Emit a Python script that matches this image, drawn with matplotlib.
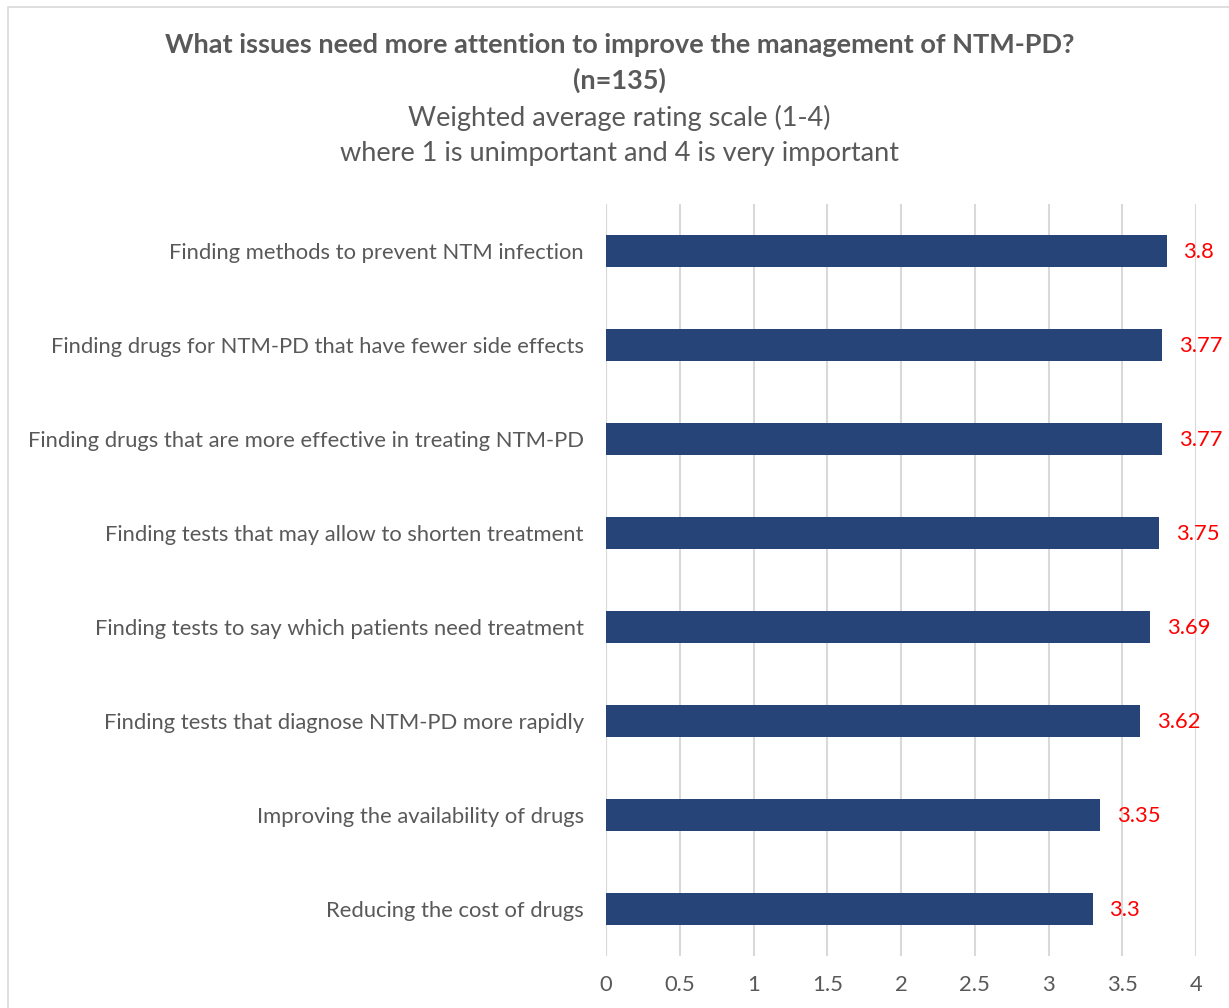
import matplotlib.pyplot as plt
from matplotlib.patches import Rectangle

plt.rcParams['font.family'] = ['Lato', 'DejaVu Sans']

categories = [
    "Finding methods to prevent NTM infection",
    "Finding drugs for NTM-PD that have fewer side effects",
    "Finding drugs that are more effective in treating NTM-PD",
    "Finding tests that may allow to shorten treatment",
    "Finding tests to say which patients need treatment",
    "Finding tests that diagnose NTM-PD more rapidly",
    "Improving the availability of drugs",
    "Reducing the cost of drugs",
]
values = [3.8, 3.77, 3.77, 3.75, 3.69, 3.62, 3.35, 3.3]
value_labels = ["3.8", "3.77", "3.77", "3.75", "3.69", "3.62", "3.35", "3.3"]
x_ticks = [0, 0.5, 1, 1.5, 2, 2.5, 3, 3.5, 4]
x_tick_labels = ["0", "0.5", "1", "1.5", "2", "2.5", "3", "3.5", "4"]

text_grey = "#595959"
bar_color = "#264478"

fig = plt.figure(figsize=(12.29, 10.08), dpi=100)
# chart area border (only top/left visible in the reference crop)
fig.patches.append(Rectangle((8 / 1229, -0.1), 1.2, 1.1 - 7 / 1008,
                             transform=fig.transFigure, fill=False,
                             edgecolor="#d9d9d9", linewidth=1.2))

ax = fig.add_axes([606 / 1229, 52 / 1008, 590 / 1229, 752 / 1008])
ypos = list(range(len(categories)))
ax.barh(ypos, values, height=0.35, color=bar_color, zorder=3)
ax.set_ylim(len(categories) - 0.5, -0.5)
ax.set_xlim(0, 4)

ax.set_yticks(ypos)
ax.set_yticklabels(categories, fontsize=15.8, color=text_grey)
ax.set_xticks(x_ticks)
ax.set_xticklabels(x_tick_labels, fontsize=15.8, color=text_grey)
ax.tick_params(axis="y", length=0, pad=16)
ax.tick_params(axis="x", length=0, pad=14)
ax.grid(axis="x", color="#d9d9d9", linewidth=1.5, zorder=0)
for s in ax.spines.values():
    s.set_visible(False)
ax.axvline(0, color="#d9d9d9", linewidth=1.5, zorder=1)

for y, v, lab in zip(ypos, values, value_labels):
    ax.annotate(lab, xy=(v, y), xytext=(12, -1), textcoords="offset points",
                ha="left", va="center", color="red", fontsize=15.8, zorder=4)

fig.text(0.504, 1 - 45 / 1008, "What issues need more attention to improve the management of NTM-PD?",
         ha="center", va="center", fontsize=19.5, fontweight="bold", color=text_grey)
fig.text(0.504, 1 - 80 / 1008, "(n=135)",
         ha="center", va="center", fontsize=19.5, fontweight="bold", color=text_grey)
fig.text(0.504, 1 - 118 / 1008, "Weighted average rating scale (1-4)",
         ha="center", va="center", fontsize=19.5, color=text_grey)
fig.text(0.504, 1 - 154 / 1008, "where 1 is unimportant and 4 is very important",
         ha="center", va="center", fontsize=19.5, color=text_grey)

fig.savefig("out.png", dpi=100)
